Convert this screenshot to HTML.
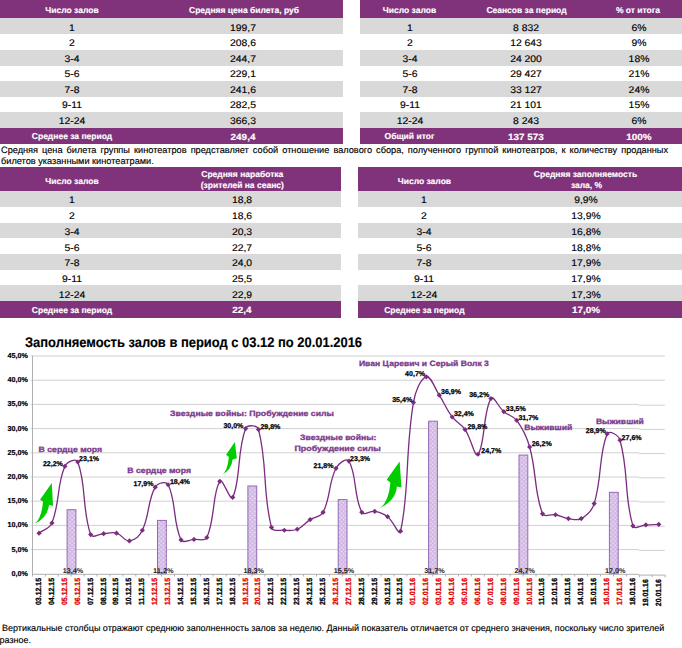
<!DOCTYPE html>
<html><head><meta charset="utf-8"><style>
html,body{margin:0;padding:0;background:#fff;}
div{-webkit-text-stroke:0.15px currentColor;}
body{text-rendering:geometricPrecision;width:682px;height:648px;position:relative;overflow:hidden;font-family:"Liberation Sans", sans-serif;}
</style></head><body>
<div style="position:absolute;left:0px;top:0px;width:343px;height:18.1px;background:#80337a"></div>
<div style="position:absolute;left:0px;top:18.1px;width:343px;height:16.199999999999996px;background:#d9d9d9"></div>
<div style="position:absolute;left:0px;top:50.0px;width:343px;height:15.599999999999994px;background:#d9d9d9"></div>
<div style="position:absolute;left:0px;top:81.2px;width:343px;height:15.599999999999994px;background:#d9d9d9"></div>
<div style="position:absolute;left:0px;top:112.3px;width:343px;height:15.700000000000003px;background:#d9d9d9"></div>
<div style="position:absolute;left:0px;top:128.0px;width:343px;height:15.800000000000011px;background:#80337a"></div>
<div style="position:absolute;left:360px;top:0px;width:322px;height:18.1px;background:#80337a"></div>
<div style="position:absolute;left:360px;top:18.1px;width:322px;height:16.199999999999996px;background:#d9d9d9"></div>
<div style="position:absolute;left:360px;top:50.0px;width:322px;height:15.599999999999994px;background:#d9d9d9"></div>
<div style="position:absolute;left:360px;top:81.2px;width:322px;height:15.599999999999994px;background:#d9d9d9"></div>
<div style="position:absolute;left:360px;top:112.3px;width:322px;height:15.700000000000003px;background:#d9d9d9"></div>
<div style="position:absolute;left:360px;top:128.0px;width:322px;height:15.800000000000011px;background:#80337a"></div>
<div style="position:absolute;left:-128px;width:400px;top:6.00px;height:8.5px;line-height:8.5px;font-size:8.5px;font-weight:bold;color:#fff;text-align:center;white-space:pre;transform:scaleX(1.0);transform-origin:200px 0">Число залов</div>
<div style="position:absolute;left:43.5px;width:400px;top:6.00px;height:8.5px;line-height:8.5px;font-size:8.5px;font-weight:bold;color:#fff;text-align:center;white-space:pre;transform:scaleX(0.9988901220865705);transform-origin:200px 0">Средняя цена билета, руб</div>
<div style="position:absolute;left:209.5px;width:400px;top:6.00px;height:8.5px;line-height:8.5px;font-size:8.5px;font-weight:bold;color:#fff;text-align:center;white-space:pre;transform:scaleX(1.0);transform-origin:200px 0">Число залов</div>
<div style="position:absolute;left:326.5px;width:400px;top:6.00px;height:8.5px;line-height:8.5px;font-size:8.5px;font-weight:bold;color:#fff;text-align:center;white-space:pre;transform:scaleX(1.0);transform-origin:200px 0">Сеансов за период</div>
<div style="position:absolute;left:438px;width:400px;top:6.00px;height:8.5px;line-height:8.5px;font-size:8.5px;font-weight:bold;color:#fff;text-align:center;white-space:pre;transform:scaleX(1.0);transform-origin:200px 0">% от итога</div>
<div style="position:absolute;left:-128px;width:400px;top:23.87px;height:9.6px;line-height:9.6px;font-size:9.6px;font-weight:normal;color:#000;text-align:center;white-space:pre;transform:scaleX(1.08);transform-origin:200px 0">1</div>
<div style="position:absolute;left:43px;width:400px;top:23.87px;height:9.6px;line-height:9.6px;font-size:9.6px;font-weight:normal;color:#000;text-align:center;white-space:pre;transform:scaleX(1.08);transform-origin:200px 0">199,7</div>
<div style="position:absolute;left:209.5px;width:400px;top:23.87px;height:9.6px;line-height:9.6px;font-size:9.6px;font-weight:normal;color:#000;text-align:center;white-space:pre;transform:scaleX(1.08);transform-origin:200px 0">1</div>
<div style="position:absolute;left:326px;width:400px;top:23.87px;height:9.6px;line-height:9.6px;font-size:9.6px;font-weight:normal;color:#000;text-align:center;white-space:pre;transform:scaleX(1.08);transform-origin:200px 0">8 832</div>
<div style="position:absolute;left:438.5px;width:400px;top:23.87px;height:9.6px;line-height:9.6px;font-size:9.6px;font-weight:normal;color:#000;text-align:center;white-space:pre;transform:scaleX(1.08);transform-origin:200px 0">6%</div>
<div style="position:absolute;left:-128px;width:400px;top:39.39px;height:9.6px;line-height:9.6px;font-size:9.6px;font-weight:normal;color:#000;text-align:center;white-space:pre;transform:scaleX(1.08);transform-origin:200px 0">2</div>
<div style="position:absolute;left:43px;width:400px;top:39.39px;height:9.6px;line-height:9.6px;font-size:9.6px;font-weight:normal;color:#000;text-align:center;white-space:pre;transform:scaleX(1.08);transform-origin:200px 0">208,6</div>
<div style="position:absolute;left:209.5px;width:400px;top:39.39px;height:9.6px;line-height:9.6px;font-size:9.6px;font-weight:normal;color:#000;text-align:center;white-space:pre;transform:scaleX(1.08);transform-origin:200px 0">2</div>
<div style="position:absolute;left:326px;width:400px;top:39.39px;height:9.6px;line-height:9.6px;font-size:9.6px;font-weight:normal;color:#000;text-align:center;white-space:pre;transform:scaleX(1.08);transform-origin:200px 0">12 643</div>
<div style="position:absolute;left:438.5px;width:400px;top:39.39px;height:9.6px;line-height:9.6px;font-size:9.6px;font-weight:normal;color:#000;text-align:center;white-space:pre;transform:scaleX(1.08);transform-origin:200px 0">9%</div>
<div style="position:absolute;left:-128px;width:400px;top:54.91px;height:9.6px;line-height:9.6px;font-size:9.6px;font-weight:normal;color:#000;text-align:center;white-space:pre;transform:scaleX(1.08);transform-origin:200px 0">3-4</div>
<div style="position:absolute;left:43px;width:400px;top:54.91px;height:9.6px;line-height:9.6px;font-size:9.6px;font-weight:normal;color:#000;text-align:center;white-space:pre;transform:scaleX(1.08);transform-origin:200px 0">244,7</div>
<div style="position:absolute;left:209.5px;width:400px;top:54.91px;height:9.6px;line-height:9.6px;font-size:9.6px;font-weight:normal;color:#000;text-align:center;white-space:pre;transform:scaleX(1.08);transform-origin:200px 0">3-4</div>
<div style="position:absolute;left:326px;width:400px;top:54.91px;height:9.6px;line-height:9.6px;font-size:9.6px;font-weight:normal;color:#000;text-align:center;white-space:pre;transform:scaleX(1.08);transform-origin:200px 0">24 200</div>
<div style="position:absolute;left:438.5px;width:400px;top:54.91px;height:9.6px;line-height:9.6px;font-size:9.6px;font-weight:normal;color:#000;text-align:center;white-space:pre;transform:scaleX(1.08);transform-origin:200px 0">18%</div>
<div style="position:absolute;left:-128px;width:400px;top:70.43px;height:9.6px;line-height:9.6px;font-size:9.6px;font-weight:normal;color:#000;text-align:center;white-space:pre;transform:scaleX(1.08);transform-origin:200px 0">5-6</div>
<div style="position:absolute;left:43px;width:400px;top:70.43px;height:9.6px;line-height:9.6px;font-size:9.6px;font-weight:normal;color:#000;text-align:center;white-space:pre;transform:scaleX(1.08);transform-origin:200px 0">229,1</div>
<div style="position:absolute;left:209.5px;width:400px;top:70.43px;height:9.6px;line-height:9.6px;font-size:9.6px;font-weight:normal;color:#000;text-align:center;white-space:pre;transform:scaleX(1.08);transform-origin:200px 0">5-6</div>
<div style="position:absolute;left:326px;width:400px;top:70.43px;height:9.6px;line-height:9.6px;font-size:9.6px;font-weight:normal;color:#000;text-align:center;white-space:pre;transform:scaleX(1.08);transform-origin:200px 0">29 427</div>
<div style="position:absolute;left:438.5px;width:400px;top:70.43px;height:9.6px;line-height:9.6px;font-size:9.6px;font-weight:normal;color:#000;text-align:center;white-space:pre;transform:scaleX(1.08);transform-origin:200px 0">21%</div>
<div style="position:absolute;left:-128px;width:400px;top:85.95px;height:9.6px;line-height:9.6px;font-size:9.6px;font-weight:normal;color:#000;text-align:center;white-space:pre;transform:scaleX(1.08);transform-origin:200px 0">7-8</div>
<div style="position:absolute;left:43px;width:400px;top:85.95px;height:9.6px;line-height:9.6px;font-size:9.6px;font-weight:normal;color:#000;text-align:center;white-space:pre;transform:scaleX(1.08);transform-origin:200px 0">241,6</div>
<div style="position:absolute;left:209.5px;width:400px;top:85.95px;height:9.6px;line-height:9.6px;font-size:9.6px;font-weight:normal;color:#000;text-align:center;white-space:pre;transform:scaleX(1.08);transform-origin:200px 0">7-8</div>
<div style="position:absolute;left:326px;width:400px;top:85.95px;height:9.6px;line-height:9.6px;font-size:9.6px;font-weight:normal;color:#000;text-align:center;white-space:pre;transform:scaleX(1.08);transform-origin:200px 0">33 127</div>
<div style="position:absolute;left:438.5px;width:400px;top:85.95px;height:9.6px;line-height:9.6px;font-size:9.6px;font-weight:normal;color:#000;text-align:center;white-space:pre;transform:scaleX(1.08);transform-origin:200px 0">24%</div>
<div style="position:absolute;left:-128px;width:400px;top:101.47px;height:9.6px;line-height:9.6px;font-size:9.6px;font-weight:normal;color:#000;text-align:center;white-space:pre;transform:scaleX(1.08);transform-origin:200px 0">9-11</div>
<div style="position:absolute;left:43px;width:400px;top:101.47px;height:9.6px;line-height:9.6px;font-size:9.6px;font-weight:normal;color:#000;text-align:center;white-space:pre;transform:scaleX(1.08);transform-origin:200px 0">282,5</div>
<div style="position:absolute;left:209.5px;width:400px;top:101.47px;height:9.6px;line-height:9.6px;font-size:9.6px;font-weight:normal;color:#000;text-align:center;white-space:pre;transform:scaleX(1.08);transform-origin:200px 0">9-11</div>
<div style="position:absolute;left:326px;width:400px;top:101.47px;height:9.6px;line-height:9.6px;font-size:9.6px;font-weight:normal;color:#000;text-align:center;white-space:pre;transform:scaleX(1.08);transform-origin:200px 0">21 101</div>
<div style="position:absolute;left:438.5px;width:400px;top:101.47px;height:9.6px;line-height:9.6px;font-size:9.6px;font-weight:normal;color:#000;text-align:center;white-space:pre;transform:scaleX(1.08);transform-origin:200px 0">15%</div>
<div style="position:absolute;left:-128px;width:400px;top:116.99px;height:9.6px;line-height:9.6px;font-size:9.6px;font-weight:normal;color:#000;text-align:center;white-space:pre;transform:scaleX(1.08);transform-origin:200px 0">12-24</div>
<div style="position:absolute;left:43px;width:400px;top:116.99px;height:9.6px;line-height:9.6px;font-size:9.6px;font-weight:normal;color:#000;text-align:center;white-space:pre;transform:scaleX(1.08);transform-origin:200px 0">366,3</div>
<div style="position:absolute;left:209.5px;width:400px;top:116.99px;height:9.6px;line-height:9.6px;font-size:9.6px;font-weight:normal;color:#000;text-align:center;white-space:pre;transform:scaleX(1.08);transform-origin:200px 0">12-24</div>
<div style="position:absolute;left:326px;width:400px;top:116.99px;height:9.6px;line-height:9.6px;font-size:9.6px;font-weight:normal;color:#000;text-align:center;white-space:pre;transform:scaleX(1.08);transform-origin:200px 0">8 243</div>
<div style="position:absolute;left:438.5px;width:400px;top:116.99px;height:9.6px;line-height:9.6px;font-size:9.6px;font-weight:normal;color:#000;text-align:center;white-space:pre;transform:scaleX(1.08);transform-origin:200px 0">6%</div>
<div style="position:absolute;left:-128px;width:400px;top:132.30px;height:8.5px;line-height:8.5px;font-size:8.5px;font-weight:bold;color:#fff;text-align:center;white-space:pre;transform:scaleX(1.0);transform-origin:200px 0">Среднее за период</div>
<div style="position:absolute;left:43px;width:400px;top:132.58px;height:9px;line-height:9px;font-size:9px;font-weight:bold;color:#fff;text-align:center;white-space:pre;transform:scaleX(1.1);transform-origin:200px 0">249,4</div>
<div style="position:absolute;left:209.5px;width:400px;top:132.30px;height:8.5px;line-height:8.5px;font-size:8.5px;font-weight:bold;color:#fff;text-align:center;white-space:pre;transform:scaleX(1.0);transform-origin:200px 0">Общий итог</div>
<div style="position:absolute;left:326px;width:400px;top:132.58px;height:9px;line-height:9px;font-size:9px;font-weight:bold;color:#fff;text-align:center;white-space:pre;transform:scaleX(1.1);transform-origin:200px 0">137 573</div>
<div style="position:absolute;left:438.5px;width:400px;top:132.58px;height:9px;line-height:9px;font-size:9px;font-weight:bold;color:#fff;text-align:center;white-space:pre;transform:scaleX(1.1);transform-origin:200px 0">100%</div>
<div style="position:absolute;left:1px;top:144.5px;width:667px;font-size:9.2px;line-height:11.5px;text-align:justify;color:#000">Средняя цена билета группы кинотеатров представляет собой отношение валового сбора, полученного группой кинотеатров, к количеству проданных билетов указанными кинотеатрами.</div>
<div style="position:absolute;left:0px;top:167px;width:341px;height:24.19999999999999px;background:#80337a"></div>
<div style="position:absolute;left:358px;top:167px;width:324px;height:24.19999999999999px;background:#80337a"></div>
<div style="position:absolute;left:0px;top:191.2px;width:341px;height:15.7px;background:#d9d9d9"></div>
<div style="position:absolute;left:358px;top:191.2px;width:324px;height:15.7px;background:#d9d9d9"></div>
<div style="position:absolute;left:0px;top:222.6px;width:341px;height:15.7px;background:#d9d9d9"></div>
<div style="position:absolute;left:358px;top:222.6px;width:324px;height:15.7px;background:#d9d9d9"></div>
<div style="position:absolute;left:0px;top:254.0px;width:341px;height:15.7px;background:#d9d9d9"></div>
<div style="position:absolute;left:358px;top:254.0px;width:324px;height:15.7px;background:#d9d9d9"></div>
<div style="position:absolute;left:0px;top:285.4px;width:341px;height:15.7px;background:#d9d9d9"></div>
<div style="position:absolute;left:358px;top:285.4px;width:324px;height:15.7px;background:#d9d9d9"></div>
<div style="position:absolute;left:0px;top:301.09999999999997px;width:341px;height:16.700000000000045px;background:#80337a"></div>
<div style="position:absolute;left:358px;top:301.09999999999997px;width:324px;height:16.700000000000045px;background:#80337a"></div>
<div style="position:absolute;left:-128px;width:400px;top:176.90px;height:8.5px;line-height:8.5px;font-size:8.5px;font-weight:bold;color:#fff;text-align:center;white-space:pre;transform:scaleX(1.0);transform-origin:200px 0">Число залов</div>
<div style="position:absolute;left:42.30000000000001px;width:400px;top:169.90px;height:8.5px;line-height:8.5px;font-size:8.5px;font-weight:bold;color:#fff;text-align:center;white-space:pre;transform:scaleX(1.0);transform-origin:200px 0">Средняя наработка</div>
<div style="position:absolute;left:42.30000000000001px;width:400px;top:181.40px;height:8.5px;line-height:8.5px;font-size:8.5px;font-weight:bold;color:#fff;text-align:center;white-space:pre;transform:scaleX(1.0);transform-origin:200px 0">(зрителей на сеанс)</div>
<div style="position:absolute;left:224.39999999999998px;width:400px;top:176.90px;height:8.5px;line-height:8.5px;font-size:8.5px;font-weight:bold;color:#fff;text-align:center;white-space:pre;transform:scaleX(1.0);transform-origin:200px 0">Число залов</div>
<div style="position:absolute;left:385.5px;width:400px;top:170.00px;height:8.5px;line-height:8.5px;font-size:8.5px;font-weight:bold;color:#fff;text-align:center;white-space:pre;transform:scaleX(1.0);transform-origin:200px 0">Средняя заполняемость</div>
<div style="position:absolute;left:386.5px;width:400px;top:181.40px;height:8.5px;line-height:8.5px;font-size:8.5px;font-weight:bold;color:#fff;text-align:center;white-space:pre;transform:scaleX(1.0);transform-origin:200px 0">зала, %</div>
<div style="position:absolute;left:-128px;width:400px;top:196.27px;height:9.6px;line-height:9.6px;font-size:9.6px;font-weight:normal;color:#000;text-align:center;white-space:pre;transform:scaleX(1.08);transform-origin:200px 0">1</div>
<div style="position:absolute;left:42.30000000000001px;width:400px;top:196.27px;height:9.6px;line-height:9.6px;font-size:9.6px;font-weight:normal;color:#000;text-align:center;white-space:pre;transform:scaleX(1.08);transform-origin:200px 0">18,8</div>
<div style="position:absolute;left:224.39999999999998px;width:400px;top:196.27px;height:9.6px;line-height:9.6px;font-size:9.6px;font-weight:normal;color:#000;text-align:center;white-space:pre;transform:scaleX(1.08);transform-origin:200px 0">1</div>
<div style="position:absolute;left:385.6px;width:400px;top:196.27px;height:9.6px;line-height:9.6px;font-size:9.6px;font-weight:normal;color:#000;text-align:center;white-space:pre;transform:scaleX(1.08);transform-origin:200px 0">9,9%</div>
<div style="position:absolute;left:-128px;width:400px;top:212.02px;height:9.6px;line-height:9.6px;font-size:9.6px;font-weight:normal;color:#000;text-align:center;white-space:pre;transform:scaleX(1.08);transform-origin:200px 0">2</div>
<div style="position:absolute;left:42.30000000000001px;width:400px;top:212.02px;height:9.6px;line-height:9.6px;font-size:9.6px;font-weight:normal;color:#000;text-align:center;white-space:pre;transform:scaleX(1.08);transform-origin:200px 0">18,6</div>
<div style="position:absolute;left:224.39999999999998px;width:400px;top:212.02px;height:9.6px;line-height:9.6px;font-size:9.6px;font-weight:normal;color:#000;text-align:center;white-space:pre;transform:scaleX(1.08);transform-origin:200px 0">2</div>
<div style="position:absolute;left:385.6px;width:400px;top:212.02px;height:9.6px;line-height:9.6px;font-size:9.6px;font-weight:normal;color:#000;text-align:center;white-space:pre;transform:scaleX(1.08);transform-origin:200px 0">13,9%</div>
<div style="position:absolute;left:-128px;width:400px;top:227.77px;height:9.6px;line-height:9.6px;font-size:9.6px;font-weight:normal;color:#000;text-align:center;white-space:pre;transform:scaleX(1.08);transform-origin:200px 0">3-4</div>
<div style="position:absolute;left:42.30000000000001px;width:400px;top:227.77px;height:9.6px;line-height:9.6px;font-size:9.6px;font-weight:normal;color:#000;text-align:center;white-space:pre;transform:scaleX(1.08);transform-origin:200px 0">20,3</div>
<div style="position:absolute;left:224.39999999999998px;width:400px;top:227.77px;height:9.6px;line-height:9.6px;font-size:9.6px;font-weight:normal;color:#000;text-align:center;white-space:pre;transform:scaleX(1.08);transform-origin:200px 0">3-4</div>
<div style="position:absolute;left:385.6px;width:400px;top:227.77px;height:9.6px;line-height:9.6px;font-size:9.6px;font-weight:normal;color:#000;text-align:center;white-space:pre;transform:scaleX(1.08);transform-origin:200px 0">16,8%</div>
<div style="position:absolute;left:-128px;width:400px;top:243.52px;height:9.6px;line-height:9.6px;font-size:9.6px;font-weight:normal;color:#000;text-align:center;white-space:pre;transform:scaleX(1.08);transform-origin:200px 0">5-6</div>
<div style="position:absolute;left:42.30000000000001px;width:400px;top:243.52px;height:9.6px;line-height:9.6px;font-size:9.6px;font-weight:normal;color:#000;text-align:center;white-space:pre;transform:scaleX(1.08);transform-origin:200px 0">22,7</div>
<div style="position:absolute;left:224.39999999999998px;width:400px;top:243.52px;height:9.6px;line-height:9.6px;font-size:9.6px;font-weight:normal;color:#000;text-align:center;white-space:pre;transform:scaleX(1.08);transform-origin:200px 0">5-6</div>
<div style="position:absolute;left:385.6px;width:400px;top:243.52px;height:9.6px;line-height:9.6px;font-size:9.6px;font-weight:normal;color:#000;text-align:center;white-space:pre;transform:scaleX(1.08);transform-origin:200px 0">18,8%</div>
<div style="position:absolute;left:-128px;width:400px;top:259.27px;height:9.6px;line-height:9.6px;font-size:9.6px;font-weight:normal;color:#000;text-align:center;white-space:pre;transform:scaleX(1.08);transform-origin:200px 0">7-8</div>
<div style="position:absolute;left:42.30000000000001px;width:400px;top:259.27px;height:9.6px;line-height:9.6px;font-size:9.6px;font-weight:normal;color:#000;text-align:center;white-space:pre;transform:scaleX(1.08);transform-origin:200px 0">24,0</div>
<div style="position:absolute;left:224.39999999999998px;width:400px;top:259.27px;height:9.6px;line-height:9.6px;font-size:9.6px;font-weight:normal;color:#000;text-align:center;white-space:pre;transform:scaleX(1.08);transform-origin:200px 0">7-8</div>
<div style="position:absolute;left:385.6px;width:400px;top:259.27px;height:9.6px;line-height:9.6px;font-size:9.6px;font-weight:normal;color:#000;text-align:center;white-space:pre;transform:scaleX(1.08);transform-origin:200px 0">17,9%</div>
<div style="position:absolute;left:-128px;width:400px;top:275.02px;height:9.6px;line-height:9.6px;font-size:9.6px;font-weight:normal;color:#000;text-align:center;white-space:pre;transform:scaleX(1.08);transform-origin:200px 0">9-11</div>
<div style="position:absolute;left:42.30000000000001px;width:400px;top:275.02px;height:9.6px;line-height:9.6px;font-size:9.6px;font-weight:normal;color:#000;text-align:center;white-space:pre;transform:scaleX(1.08);transform-origin:200px 0">25,5</div>
<div style="position:absolute;left:224.39999999999998px;width:400px;top:275.02px;height:9.6px;line-height:9.6px;font-size:9.6px;font-weight:normal;color:#000;text-align:center;white-space:pre;transform:scaleX(1.08);transform-origin:200px 0">9-11</div>
<div style="position:absolute;left:385.6px;width:400px;top:275.02px;height:9.6px;line-height:9.6px;font-size:9.6px;font-weight:normal;color:#000;text-align:center;white-space:pre;transform:scaleX(1.08);transform-origin:200px 0">17,9%</div>
<div style="position:absolute;left:-128px;width:400px;top:290.77px;height:9.6px;line-height:9.6px;font-size:9.6px;font-weight:normal;color:#000;text-align:center;white-space:pre;transform:scaleX(1.08);transform-origin:200px 0">12-24</div>
<div style="position:absolute;left:42.30000000000001px;width:400px;top:290.77px;height:9.6px;line-height:9.6px;font-size:9.6px;font-weight:normal;color:#000;text-align:center;white-space:pre;transform:scaleX(1.08);transform-origin:200px 0">22,9</div>
<div style="position:absolute;left:224.39999999999998px;width:400px;top:290.77px;height:9.6px;line-height:9.6px;font-size:9.6px;font-weight:normal;color:#000;text-align:center;white-space:pre;transform:scaleX(1.08);transform-origin:200px 0">12-24</div>
<div style="position:absolute;left:385.6px;width:400px;top:290.77px;height:9.6px;line-height:9.6px;font-size:9.6px;font-weight:normal;color:#000;text-align:center;white-space:pre;transform:scaleX(1.08);transform-origin:200px 0">17,3%</div>
<div style="position:absolute;left:-128px;width:400px;top:305.80px;height:8.5px;line-height:8.5px;font-size:8.5px;font-weight:bold;color:#fff;text-align:center;white-space:pre;transform:scaleX(1.0);transform-origin:200px 0">Среднее за период</div>
<div style="position:absolute;left:42.30000000000001px;width:400px;top:306.48px;height:9px;line-height:9px;font-size:9px;font-weight:bold;color:#fff;text-align:center;white-space:pre;transform:scaleX(1.1);transform-origin:200px 0">22,4</div>
<div style="position:absolute;left:224.39999999999998px;width:400px;top:305.80px;height:8.5px;line-height:8.5px;font-size:8.5px;font-weight:bold;color:#fff;text-align:center;white-space:pre;transform:scaleX(1.0);transform-origin:200px 0">Среднее за период</div>
<div style="position:absolute;left:385.6px;width:400px;top:306.48px;height:9px;line-height:9px;font-size:9px;font-weight:bold;color:#fff;text-align:center;white-space:pre;transform:scaleX(1.1);transform-origin:200px 0">17,0%</div>
<div style="position:absolute;left:25px;top:334.75px;height:14px;line-height:14px;font-size:14px;font-weight:bold;color:#000;white-space:pre;transform:scaleX(0.9235406960811182);transform-origin:0 0">Заполняемость залов в период с 03.12 по 20.01.2016</div>
<svg width="682" height="648" viewBox="0 0 682 648" style="position:absolute;left:0;top:0">
<defs><pattern id="dots" width="3" height="3" patternUnits="userSpaceOnUse" patternTransform="rotate(45)"><rect width="3" height="3" fill="#d0b6e3"/><rect x="0.8" y="0.8" width="1.4" height="1.4" fill="#f6eefa"/></pattern></defs>
<line x1="30.5" x2="639" y1="549.6" y2="549.6" stroke="#d0d0d0" stroke-width="1"/>
<line x1="639" x2="664.8" y1="550.4" y2="550.4" stroke="#d0d0d0" stroke-width="1"/>
<line x1="30.5" x2="639" y1="525.4" y2="525.4" stroke="#d0d0d0" stroke-width="1"/>
<line x1="639" x2="664.8" y1="526.2" y2="526.2" stroke="#d0d0d0" stroke-width="1"/>
<line x1="30.5" x2="639" y1="501.2" y2="501.2" stroke="#d0d0d0" stroke-width="1"/>
<line x1="639" x2="664.8" y1="502.0" y2="502.0" stroke="#d0d0d0" stroke-width="1"/>
<line x1="30.5" x2="639" y1="477.0" y2="477.0" stroke="#d0d0d0" stroke-width="1"/>
<line x1="639" x2="664.8" y1="477.8" y2="477.8" stroke="#d0d0d0" stroke-width="1"/>
<line x1="30.5" x2="639" y1="452.8" y2="452.8" stroke="#d0d0d0" stroke-width="1"/>
<line x1="639" x2="664.8" y1="453.6" y2="453.6" stroke="#d0d0d0" stroke-width="1"/>
<line x1="30.5" x2="639" y1="428.6" y2="428.6" stroke="#d0d0d0" stroke-width="1"/>
<line x1="639" x2="664.8" y1="429.4" y2="429.4" stroke="#d0d0d0" stroke-width="1"/>
<line x1="30.5" x2="639" y1="404.4" y2="404.4" stroke="#d0d0d0" stroke-width="1"/>
<line x1="639" x2="664.8" y1="405.2" y2="405.2" stroke="#d0d0d0" stroke-width="1"/>
<line x1="30.5" x2="639" y1="380.2" y2="380.2" stroke="#d0d0d0" stroke-width="1"/>
<line x1="639" x2="664.8" y1="380.2" y2="380.2" stroke="#d0d0d0" stroke-width="1"/>
<line x1="30.5" x2="639" y1="356.0" y2="356.0" stroke="#d0d0d0" stroke-width="1"/>
<line x1="639" x2="664.8" y1="356.0" y2="356.0" stroke="#d0d0d0" stroke-width="1"/>
<text x="27.8" y="575.8" font-size="7.2" font-weight="bold" text-anchor="end" fill="#000" stroke="#000" stroke-width="0.2" font-family="Liberation Sans">0,0%</text>
<text x="27.8" y="551.6" font-size="7.2" font-weight="bold" text-anchor="end" fill="#000" stroke="#000" stroke-width="0.2" font-family="Liberation Sans">5,0%</text>
<text x="27.8" y="527.4" font-size="7.2" font-weight="bold" text-anchor="end" fill="#000" stroke="#000" stroke-width="0.2" font-family="Liberation Sans">10,0%</text>
<text x="27.8" y="503.2" font-size="7.2" font-weight="bold" text-anchor="end" fill="#000" stroke="#000" stroke-width="0.2" font-family="Liberation Sans">15,0%</text>
<text x="27.8" y="479.0" font-size="7.2" font-weight="bold" text-anchor="end" fill="#000" stroke="#000" stroke-width="0.2" font-family="Liberation Sans">20,0%</text>
<text x="27.8" y="454.8" font-size="7.2" font-weight="bold" text-anchor="end" fill="#000" stroke="#000" stroke-width="0.2" font-family="Liberation Sans">25,0%</text>
<text x="27.8" y="430.6" font-size="7.2" font-weight="bold" text-anchor="end" fill="#000" stroke="#000" stroke-width="0.2" font-family="Liberation Sans">30,0%</text>
<text x="27.8" y="406.4" font-size="7.2" font-weight="bold" text-anchor="end" fill="#000" stroke="#000" stroke-width="0.2" font-family="Liberation Sans">35,0%</text>
<text x="27.8" y="382.2" font-size="7.2" font-weight="bold" text-anchor="end" fill="#000" stroke="#000" stroke-width="0.2" font-family="Liberation Sans">40,0%</text>
<text x="27.8" y="358.0" font-size="7.2" font-weight="bold" text-anchor="end" fill="#000" stroke="#000" stroke-width="0.2" font-family="Liberation Sans">45,0%</text>
<rect x="67.1" y="509.7" width="8.8" height="64.1" fill="url(#dots)" stroke="#9468b6" stroke-width="1"/>
<rect x="157.5" y="520.4" width="8.8" height="53.4" fill="url(#dots)" stroke="#9468b6" stroke-width="1"/>
<rect x="247.9" y="486.0" width="8.8" height="87.8" fill="url(#dots)" stroke="#9468b6" stroke-width="1"/>
<rect x="338.2" y="499.6" width="8.8" height="74.2" fill="url(#dots)" stroke="#9468b6" stroke-width="1"/>
<rect x="428.6" y="421.2" width="8.8" height="152.6" fill="url(#dots)" stroke="#9468b6" stroke-width="1"/>
<rect x="519.0" y="455.1" width="8.8" height="118.7" fill="url(#dots)" stroke="#9468b6" stroke-width="1"/>
<rect x="609.4" y="492.3" width="8.8" height="81.5" fill="url(#dots)" stroke="#9468b6" stroke-width="1"/>
<line x1="32.5" x2="32.5" y1="355.5" y2="574.3" stroke="#b0b0b0" stroke-width="1"/>
<line x1="32" x2="639" y1="574.3" y2="574.3" stroke="#b0b0b0" stroke-width="1"/>
<line x1="639" x2="664.8" y1="575.1" y2="575.1" stroke="#b0b0b0" stroke-width="1"/>
<line x1="32.5" x2="32.5" y1="574" y2="576.5" stroke="#b0b0b0" stroke-width="1"/>
<line x1="45.4" x2="45.4" y1="574" y2="576.5" stroke="#b0b0b0" stroke-width="1"/>
<line x1="58.3" x2="58.3" y1="574" y2="576.5" stroke="#b0b0b0" stroke-width="1"/>
<line x1="71.2" x2="71.2" y1="574" y2="576.5" stroke="#b0b0b0" stroke-width="1"/>
<line x1="84.1" x2="84.1" y1="574" y2="576.5" stroke="#b0b0b0" stroke-width="1"/>
<line x1="97.0" x2="97.0" y1="574" y2="576.5" stroke="#b0b0b0" stroke-width="1"/>
<line x1="110.0" x2="110.0" y1="574" y2="576.5" stroke="#b0b0b0" stroke-width="1"/>
<line x1="122.9" x2="122.9" y1="574" y2="576.5" stroke="#b0b0b0" stroke-width="1"/>
<line x1="135.8" x2="135.8" y1="574" y2="576.5" stroke="#b0b0b0" stroke-width="1"/>
<line x1="148.7" x2="148.7" y1="574" y2="576.5" stroke="#b0b0b0" stroke-width="1"/>
<line x1="161.6" x2="161.6" y1="574" y2="576.5" stroke="#b0b0b0" stroke-width="1"/>
<line x1="174.5" x2="174.5" y1="574" y2="576.5" stroke="#b0b0b0" stroke-width="1"/>
<line x1="187.4" x2="187.4" y1="574" y2="576.5" stroke="#b0b0b0" stroke-width="1"/>
<line x1="200.3" x2="200.3" y1="574" y2="576.5" stroke="#b0b0b0" stroke-width="1"/>
<line x1="213.2" x2="213.2" y1="574" y2="576.5" stroke="#b0b0b0" stroke-width="1"/>
<line x1="226.2" x2="226.2" y1="574" y2="576.5" stroke="#b0b0b0" stroke-width="1"/>
<line x1="239.1" x2="239.1" y1="574" y2="576.5" stroke="#b0b0b0" stroke-width="1"/>
<line x1="252.0" x2="252.0" y1="574" y2="576.5" stroke="#b0b0b0" stroke-width="1"/>
<line x1="264.9" x2="264.9" y1="574" y2="576.5" stroke="#b0b0b0" stroke-width="1"/>
<line x1="277.8" x2="277.8" y1="574" y2="576.5" stroke="#b0b0b0" stroke-width="1"/>
<line x1="290.7" x2="290.7" y1="574" y2="576.5" stroke="#b0b0b0" stroke-width="1"/>
<line x1="303.6" x2="303.6" y1="574" y2="576.5" stroke="#b0b0b0" stroke-width="1"/>
<line x1="316.5" x2="316.5" y1="574" y2="576.5" stroke="#b0b0b0" stroke-width="1"/>
<line x1="329.4" x2="329.4" y1="574" y2="576.5" stroke="#b0b0b0" stroke-width="1"/>
<line x1="342.3" x2="342.3" y1="574" y2="576.5" stroke="#b0b0b0" stroke-width="1"/>
<line x1="355.2" x2="355.2" y1="574" y2="576.5" stroke="#b0b0b0" stroke-width="1"/>
<line x1="368.2" x2="368.2" y1="574" y2="576.5" stroke="#b0b0b0" stroke-width="1"/>
<line x1="381.1" x2="381.1" y1="574" y2="576.5" stroke="#b0b0b0" stroke-width="1"/>
<line x1="394.0" x2="394.0" y1="574" y2="576.5" stroke="#b0b0b0" stroke-width="1"/>
<line x1="406.9" x2="406.9" y1="574" y2="576.5" stroke="#b0b0b0" stroke-width="1"/>
<line x1="419.8" x2="419.8" y1="574" y2="576.5" stroke="#b0b0b0" stroke-width="1"/>
<line x1="432.7" x2="432.7" y1="574" y2="576.5" stroke="#b0b0b0" stroke-width="1"/>
<line x1="445.6" x2="445.6" y1="574" y2="576.5" stroke="#b0b0b0" stroke-width="1"/>
<line x1="458.5" x2="458.5" y1="574" y2="576.5" stroke="#b0b0b0" stroke-width="1"/>
<line x1="471.4" x2="471.4" y1="574" y2="576.5" stroke="#b0b0b0" stroke-width="1"/>
<line x1="484.4" x2="484.4" y1="574" y2="576.5" stroke="#b0b0b0" stroke-width="1"/>
<line x1="497.3" x2="497.3" y1="574" y2="576.5" stroke="#b0b0b0" stroke-width="1"/>
<line x1="510.2" x2="510.2" y1="574" y2="576.5" stroke="#b0b0b0" stroke-width="1"/>
<line x1="523.1" x2="523.1" y1="574" y2="576.5" stroke="#b0b0b0" stroke-width="1"/>
<line x1="536.0" x2="536.0" y1="574" y2="576.5" stroke="#b0b0b0" stroke-width="1"/>
<line x1="548.9" x2="548.9" y1="574" y2="576.5" stroke="#b0b0b0" stroke-width="1"/>
<line x1="561.8" x2="561.8" y1="574" y2="576.5" stroke="#b0b0b0" stroke-width="1"/>
<line x1="574.7" x2="574.7" y1="574" y2="576.5" stroke="#b0b0b0" stroke-width="1"/>
<line x1="587.6" x2="587.6" y1="574" y2="576.5" stroke="#b0b0b0" stroke-width="1"/>
<line x1="600.5" x2="600.5" y1="574" y2="576.5" stroke="#b0b0b0" stroke-width="1"/>
<line x1="613.5" x2="613.5" y1="574" y2="576.5" stroke="#b0b0b0" stroke-width="1"/>
<line x1="626.4" x2="626.4" y1="574" y2="576.5" stroke="#b0b0b0" stroke-width="1"/>
<line x1="639.3" x2="639.3" y1="574.8" y2="577.3" stroke="#b0b0b0" stroke-width="1"/>
<line x1="652.2" x2="652.2" y1="574.8" y2="577.3" stroke="#b0b0b0" stroke-width="1"/>
<line x1="665.1" x2="665.1" y1="574.8" y2="577.3" stroke="#b0b0b0" stroke-width="1"/>
<path d="M39.06,533.14 C44.22,529.08 49.69,528.87 51.97,522.98 C60.02,502.15 56.51,486.11 64.88,466.35 C66.84,461.72 76.18,457.74 77.79,462.00 C86.51,485.04 81.91,510.22 90.70,534.60 C92.24,538.88 98.44,533.92 103.61,533.63 C108.77,533.34 111.75,531.80 116.52,533.14 C122.08,534.71 124.54,541.44 129.43,540.89 C134.87,540.28 139.54,536.07 142.34,530.24 C149.87,514.58 147.26,501.25 155.25,487.16 C157.58,483.05 166.22,480.77 168.16,484.74 C176.54,501.88 172.66,522.10 181.07,539.92 C182.99,543.98 188.84,539.92 193.98,539.44 C199.17,538.95 204.98,541.79 206.89,537.50 C215.31,518.56 212.19,493.20 219.80,481.36 C222.51,477.13 230.37,502.12 232.71,497.33 C240.69,481.02 236.91,451.47 245.62,428.60 C247.23,424.37 257.33,424.98 258.53,429.57 C267.66,464.48 262.33,491.83 271.44,527.34 C272.66,532.10 279.13,529.85 284.35,530.24 C289.46,530.62 292.66,531.17 297.26,529.27 C302.99,526.91 304.78,523.13 310.17,519.59 C315.11,516.35 320.56,517.34 323.08,512.33 C330.89,496.82 328.18,483.80 335.99,468.29 C338.51,463.28 346.64,457.17 348.90,461.03 C356.97,474.79 353.51,496.16 361.81,512.33 C363.84,516.29 369.75,510.53 374.72,511.36 C380.08,512.27 383.31,513.37 387.63,516.69 C393.64,521.31 399.19,537.17 400.54,531.21 C409.52,491.48 405.00,453.01 413.45,402.46 C415.33,391.25 420.57,378.44 426.36,376.81 C430.89,375.54 434.41,387.65 439.27,395.20 C444.74,403.72 446.15,408.96 452.18,416.98 C456.48,422.70 461.03,423.71 465.09,429.57 C471.36,438.62 474.62,458.31 478.00,454.25 C484.94,445.92 483.09,411.48 490.91,398.59 C493.42,394.45 498.23,406.95 503.82,411.66 C508.56,415.66 513.17,415.50 516.73,420.37 C523.50,429.63 526.51,435.67 529.64,446.99 C536.84,473.03 533.87,491.01 542.55,513.78 C544.20,518.12 550.40,513.80 555.46,514.75 C560.73,515.74 563.09,517.83 568.37,518.62 C573.42,519.38 577.20,520.99 581.28,518.62 C587.53,514.99 591.94,511.02 594.19,503.62 C602.26,477.14 598.51,455.01 607.10,433.92 C608.84,429.65 618.54,434.99 620.01,440.22 C628.87,471.77 623.93,496.41 632.92,525.88 C634.26,530.29 640.66,525.21 645.83,524.92 C650.99,524.63 653.58,524.63 658.74,524.43" fill="none" stroke="#7b2c80" stroke-width="1.3"/>
<path d="M39.06,530.54 L41.66,533.14 L39.06,535.74 L36.46,533.14Z" fill="#7b2c80"/>
<path d="M51.97,520.38 L54.57,522.98 L51.97,525.58 L49.37,522.98Z" fill="#7b2c80"/>
<path d="M64.88,463.75 L67.48,466.35 L64.88,468.95 L62.28,466.35Z" fill="#7b2c80"/>
<path d="M77.79,459.40 L80.39,462.00 L77.79,464.60 L75.19,462.00Z" fill="#7b2c80"/>
<path d="M90.70,532.00 L93.30,534.60 L90.70,537.20 L88.10,534.60Z" fill="#7b2c80"/>
<path d="M103.61,531.03 L106.21,533.63 L103.61,536.23 L101.01,533.63Z" fill="#7b2c80"/>
<path d="M116.52,530.54 L119.12,533.14 L116.52,535.74 L113.92,533.14Z" fill="#7b2c80"/>
<path d="M129.43,538.29 L132.03,540.89 L129.43,543.49 L126.83,540.89Z" fill="#7b2c80"/>
<path d="M142.34,527.64 L144.94,530.24 L142.34,532.84 L139.74,530.24Z" fill="#7b2c80"/>
<path d="M155.25,484.56 L157.85,487.16 L155.25,489.76 L152.65,487.16Z" fill="#7b2c80"/>
<path d="M168.16,482.14 L170.76,484.74 L168.16,487.34 L165.56,484.74Z" fill="#7b2c80"/>
<path d="M181.07,537.32 L183.67,539.92 L181.07,542.52 L178.47,539.92Z" fill="#7b2c80"/>
<path d="M193.98,536.84 L196.58,539.44 L193.98,542.04 L191.38,539.44Z" fill="#7b2c80"/>
<path d="M206.89,534.90 L209.49,537.50 L206.89,540.10 L204.29,537.50Z" fill="#7b2c80"/>
<path d="M219.80,478.76 L222.40,481.36 L219.80,483.96 L217.20,481.36Z" fill="#7b2c80"/>
<path d="M232.71,494.73 L235.31,497.33 L232.71,499.93 L230.11,497.33Z" fill="#7b2c80"/>
<path d="M245.62,426.00 L248.22,428.60 L245.62,431.20 L243.02,428.60Z" fill="#7b2c80"/>
<path d="M258.53,426.97 L261.13,429.57 L258.53,432.17 L255.93,429.57Z" fill="#7b2c80"/>
<path d="M271.44,524.74 L274.04,527.34 L271.44,529.94 L268.84,527.34Z" fill="#7b2c80"/>
<path d="M284.35,527.64 L286.95,530.24 L284.35,532.84 L281.75,530.24Z" fill="#7b2c80"/>
<path d="M297.26,526.67 L299.86,529.27 L297.26,531.87 L294.66,529.27Z" fill="#7b2c80"/>
<path d="M310.17,516.99 L312.77,519.59 L310.17,522.19 L307.57,519.59Z" fill="#7b2c80"/>
<path d="M323.08,509.73 L325.68,512.33 L323.08,514.93 L320.48,512.33Z" fill="#7b2c80"/>
<path d="M335.99,465.69 L338.59,468.29 L335.99,470.89 L333.39,468.29Z" fill="#7b2c80"/>
<path d="M348.90,458.43 L351.50,461.03 L348.90,463.63 L346.30,461.03Z" fill="#7b2c80"/>
<path d="M361.81,509.73 L364.41,512.33 L361.81,514.93 L359.21,512.33Z" fill="#7b2c80"/>
<path d="M374.72,508.76 L377.32,511.36 L374.72,513.96 L372.12,511.36Z" fill="#7b2c80"/>
<path d="M387.63,514.09 L390.23,516.69 L387.63,519.29 L385.03,516.69Z" fill="#7b2c80"/>
<path d="M400.54,528.61 L403.14,531.21 L400.54,533.81 L397.94,531.21Z" fill="#7b2c80"/>
<path d="M413.45,399.86 L416.05,402.46 L413.45,405.06 L410.85,402.46Z" fill="#7b2c80"/>
<path d="M426.36,374.21 L428.96,376.81 L426.36,379.41 L423.76,376.81Z" fill="#7b2c80"/>
<path d="M439.27,392.60 L441.87,395.20 L439.27,397.80 L436.67,395.20Z" fill="#7b2c80"/>
<path d="M452.18,414.38 L454.78,416.98 L452.18,419.58 L449.58,416.98Z" fill="#7b2c80"/>
<path d="M465.09,426.97 L467.69,429.57 L465.09,432.17 L462.49,429.57Z" fill="#7b2c80"/>
<path d="M478.00,451.65 L480.60,454.25 L478.00,456.85 L475.40,454.25Z" fill="#7b2c80"/>
<path d="M490.91,395.99 L493.51,398.59 L490.91,401.19 L488.31,398.59Z" fill="#7b2c80"/>
<path d="M503.82,409.06 L506.42,411.66 L503.82,414.26 L501.22,411.66Z" fill="#7b2c80"/>
<path d="M516.73,417.77 L519.33,420.37 L516.73,422.97 L514.13,420.37Z" fill="#7b2c80"/>
<path d="M529.64,444.39 L532.24,446.99 L529.64,449.59 L527.04,446.99Z" fill="#7b2c80"/>
<path d="M542.55,511.18 L545.15,513.78 L542.55,516.38 L539.95,513.78Z" fill="#7b2c80"/>
<path d="M555.46,512.15 L558.06,514.75 L555.46,517.35 L552.86,514.75Z" fill="#7b2c80"/>
<path d="M568.37,516.02 L570.97,518.62 L568.37,521.22 L565.77,518.62Z" fill="#7b2c80"/>
<path d="M581.28,516.02 L583.88,518.62 L581.28,521.22 L578.68,518.62Z" fill="#7b2c80"/>
<path d="M594.19,501.02 L596.79,503.62 L594.19,506.22 L591.59,503.62Z" fill="#7b2c80"/>
<path d="M607.10,431.32 L609.70,433.92 L607.10,436.52 L604.50,433.92Z" fill="#7b2c80"/>
<path d="M620.01,437.62 L622.61,440.22 L620.01,442.82 L617.41,440.22Z" fill="#7b2c80"/>
<path d="M632.92,523.28 L635.52,525.88 L632.92,528.48 L630.32,525.88Z" fill="#7b2c80"/>
<path d="M645.83,522.32 L648.43,524.92 L645.83,527.52 L643.23,524.92Z" fill="#7b2c80"/>
<path d="M658.74,521.83 L661.34,524.43 L658.74,527.03 L656.14,524.43Z" fill="#7b2c80"/>
<path d="M51.8,483 L40,499.8 L43,501.5 Q41.5,518.6 34.8,523.7 Q48,517.2 49,504.7 L53,506.1 Z" fill="#00cc00"/>
<path d="M234.9,442 L226.1,454.8 L228.9,456.9 Q227.4,471.9 221.5,474.9 Q231.6,470.25 232.6,459.6 L236.8,458.2 Z" fill="#00cc00"/>
<path d="M399.6,461.6 L386.7,479.8 L390.4,482.4 Q388.9,501.15 380.4,507.9 Q395.9,500.25 396.9,486.6 L401.5,487.5 Z" fill="#00cc00"/>
<text x="42.9" y="466.1" font-size="7" font-weight="bold" fill="#000" stroke="#000" stroke-width="0.25" font-family="Liberation Sans" text-anchor="start" textLength="20" lengthAdjust="spacingAndGlyphs">22,2%</text>
<text x="79.1" y="461.1" font-size="7" font-weight="bold" fill="#000" stroke="#000" stroke-width="0.25" font-family="Liberation Sans" text-anchor="start" textLength="20" lengthAdjust="spacingAndGlyphs">23,1%</text>
<text x="133.5" y="486.1" font-size="7" font-weight="bold" fill="#000" stroke="#000" stroke-width="0.25" font-family="Liberation Sans" text-anchor="start" textLength="20" lengthAdjust="spacingAndGlyphs">17,9%</text>
<text x="169.9" y="483.7" font-size="7" font-weight="bold" fill="#000" stroke="#000" stroke-width="0.25" font-family="Liberation Sans" text-anchor="start" textLength="20" lengthAdjust="spacingAndGlyphs">18,4%</text>
<text x="223.4" y="427.6" font-size="7" font-weight="bold" fill="#000" stroke="#000" stroke-width="0.25" font-family="Liberation Sans" text-anchor="start" textLength="20" lengthAdjust="spacingAndGlyphs">30,0%</text>
<text x="260.4" y="428.6" font-size="7" font-weight="bold" fill="#000" stroke="#000" stroke-width="0.25" font-family="Liberation Sans" text-anchor="start" textLength="20" lengthAdjust="spacingAndGlyphs">29,8%</text>
<text x="313.5" y="467.8" font-size="7" font-weight="bold" fill="#000" stroke="#000" stroke-width="0.25" font-family="Liberation Sans" text-anchor="start" textLength="20" lengthAdjust="spacingAndGlyphs">21,8%</text>
<text x="350.1" y="461.0" font-size="7" font-weight="bold" fill="#000" stroke="#000" stroke-width="0.25" font-family="Liberation Sans" text-anchor="start" textLength="20" lengthAdjust="spacingAndGlyphs">23,3%</text>
<text x="392.2" y="402.1" font-size="7" font-weight="bold" fill="#000" stroke="#000" stroke-width="0.25" font-family="Liberation Sans" text-anchor="start" textLength="20" lengthAdjust="spacingAndGlyphs">35,4%</text>
<text x="405.1" y="375.8" font-size="7" font-weight="bold" fill="#000" stroke="#000" stroke-width="0.25" font-family="Liberation Sans" text-anchor="start" textLength="20" lengthAdjust="spacingAndGlyphs">40,7%</text>
<text x="441.0" y="394.4" font-size="7" font-weight="bold" fill="#000" stroke="#000" stroke-width="0.25" font-family="Liberation Sans" text-anchor="start" textLength="20" lengthAdjust="spacingAndGlyphs">36,9%</text>
<text x="453.9" y="416.3" font-size="7" font-weight="bold" fill="#000" stroke="#000" stroke-width="0.25" font-family="Liberation Sans" text-anchor="start" textLength="20" lengthAdjust="spacingAndGlyphs">32,4%</text>
<text x="467.4" y="428.7" font-size="7" font-weight="bold" fill="#000" stroke="#000" stroke-width="0.25" font-family="Liberation Sans" text-anchor="start" textLength="20" lengthAdjust="spacingAndGlyphs">29,8%</text>
<text x="481.3" y="453.4" font-size="7" font-weight="bold" fill="#000" stroke="#000" stroke-width="0.25" font-family="Liberation Sans" text-anchor="start" textLength="20" lengthAdjust="spacingAndGlyphs">24,7%</text>
<text x="469.2" y="397.3" font-size="7" font-weight="bold" fill="#000" stroke="#000" stroke-width="0.25" font-family="Liberation Sans" text-anchor="start" textLength="20" lengthAdjust="spacingAndGlyphs">36,2%</text>
<text x="505.8" y="410.6" font-size="7" font-weight="bold" fill="#000" stroke="#000" stroke-width="0.25" font-family="Liberation Sans" text-anchor="start" textLength="20" lengthAdjust="spacingAndGlyphs">33,5%</text>
<text x="518.4" y="420.0" font-size="7" font-weight="bold" fill="#000" stroke="#000" stroke-width="0.25" font-family="Liberation Sans" text-anchor="start" textLength="20" lengthAdjust="spacingAndGlyphs">31,7%</text>
<text x="531.7" y="445.7" font-size="7" font-weight="bold" fill="#000" stroke="#000" stroke-width="0.25" font-family="Liberation Sans" text-anchor="start" textLength="20" lengthAdjust="spacingAndGlyphs">26,2%</text>
<text x="585.8" y="433.2" font-size="7" font-weight="bold" fill="#000" stroke="#000" stroke-width="0.25" font-family="Liberation Sans" text-anchor="start" textLength="20" lengthAdjust="spacingAndGlyphs">28,9%</text>
<text x="621.6" y="439.9" font-size="7" font-weight="bold" fill="#000" stroke="#000" stroke-width="0.25" font-family="Liberation Sans" text-anchor="start" textLength="20" lengthAdjust="spacingAndGlyphs">27,6%</text>
<text x="72.9" y="572.8" font-size="7" font-weight="bold" fill="#222" font-family="Liberation Sans" text-anchor="middle" textLength="20.5" lengthAdjust="spacingAndGlyphs">13,4%</text>
<text x="163.3" y="572.8" font-size="7" font-weight="bold" fill="#222" font-family="Liberation Sans" text-anchor="middle" textLength="20.5" lengthAdjust="spacingAndGlyphs">11,2%</text>
<text x="253.7" y="572.8" font-size="7" font-weight="bold" fill="#222" font-family="Liberation Sans" text-anchor="middle" textLength="20.5" lengthAdjust="spacingAndGlyphs">18,3%</text>
<text x="344.0" y="572.8" font-size="7" font-weight="bold" fill="#222" font-family="Liberation Sans" text-anchor="middle" textLength="20.5" lengthAdjust="spacingAndGlyphs">15,5%</text>
<text x="434.4" y="572.8" font-size="7" font-weight="bold" fill="#222" font-family="Liberation Sans" text-anchor="middle" textLength="20.5" lengthAdjust="spacingAndGlyphs">31,7%</text>
<text x="524.8" y="572.8" font-size="7" font-weight="bold" fill="#222" font-family="Liberation Sans" text-anchor="middle" textLength="20.5" lengthAdjust="spacingAndGlyphs">24,7%</text>
<text x="615.2" y="572.8" font-size="7" font-weight="bold" fill="#222" font-family="Liberation Sans" text-anchor="middle" textLength="20.5" lengthAdjust="spacingAndGlyphs">17,0%</text>
<text x="38.5" y="451.6" font-size="7.8" font-weight="bold" fill="#7b3a8c" stroke="#7b3a8c" stroke-width="0.3" font-family="Liberation Sans" text-anchor="start" textLength="63.6" lengthAdjust="spacingAndGlyphs">В сердце моря</text>
<text x="127.3" y="472.8" font-size="7.8" font-weight="bold" fill="#7b3a8c" stroke="#7b3a8c" stroke-width="0.3" font-family="Liberation Sans" text-anchor="start" textLength="63.7" lengthAdjust="spacingAndGlyphs">В сердце моря</text>
<text x="170.0" y="416.1" font-size="7.8" font-weight="bold" fill="#7b3a8c" stroke="#7b3a8c" stroke-width="0.3" font-family="Liberation Sans" text-anchor="start" textLength="164" lengthAdjust="spacingAndGlyphs">Звездные войны: Пробуждение силы</text>
<text x="300.0" y="440.4" font-size="7.8" font-weight="bold" fill="#7b3a8c" stroke="#7b3a8c" stroke-width="0.3" font-family="Liberation Sans" text-anchor="start" textLength="76.5" lengthAdjust="spacingAndGlyphs">Звездные войны:</text>
<text x="294.4" y="451.1" font-size="7.8" font-weight="bold" fill="#7b3a8c" stroke="#7b3a8c" stroke-width="0.3" font-family="Liberation Sans" text-anchor="start" textLength="86.5" lengthAdjust="spacingAndGlyphs">Пробуждение силы</text>
<text x="358.9" y="366.4" font-size="7.8" font-weight="bold" fill="#7b3a8c" stroke="#7b3a8c" stroke-width="0.3" font-family="Liberation Sans" text-anchor="start" textLength="130" lengthAdjust="spacingAndGlyphs">Иван Царевич и Серый Волк 3</text>
<text x="524.2" y="430.4" font-size="7.8" font-weight="bold" fill="#7b3a8c" stroke="#7b3a8c" stroke-width="0.3" font-family="Liberation Sans" text-anchor="start" textLength="48.2" lengthAdjust="spacingAndGlyphs">Выживший</text>
<text x="595.9" y="424.1" font-size="7.8" font-weight="bold" fill="#7b3a8c" stroke="#7b3a8c" stroke-width="0.3" font-family="Liberation Sans" text-anchor="start" textLength="48" lengthAdjust="spacingAndGlyphs">Выживший</text>
<text transform="translate(41.0,578) rotate(-90)" font-size="7.6" font-weight="bold" fill="#000" stroke="#000" stroke-width="0.3" font-family="Liberation Sans" text-anchor="end" textLength="27" lengthAdjust="spacingAndGlyphs">03.12.15</text>
<text transform="translate(53.9,578) rotate(-90)" font-size="7.6" font-weight="bold" fill="#000" stroke="#000" stroke-width="0.3" font-family="Liberation Sans" text-anchor="end" textLength="27" lengthAdjust="spacingAndGlyphs">04.12.15</text>
<text transform="translate(66.8,578) rotate(-90)" font-size="7.6" font-weight="bold" fill="#e00000" stroke="#e00000" stroke-width="0.3" font-family="Liberation Sans" text-anchor="end" textLength="27" lengthAdjust="spacingAndGlyphs">05.12.15</text>
<text transform="translate(79.7,578) rotate(-90)" font-size="7.6" font-weight="bold" fill="#e00000" stroke="#e00000" stroke-width="0.3" font-family="Liberation Sans" text-anchor="end" textLength="27" lengthAdjust="spacingAndGlyphs">06.12.15</text>
<text transform="translate(92.6,578) rotate(-90)" font-size="7.6" font-weight="bold" fill="#000" stroke="#000" stroke-width="0.3" font-family="Liberation Sans" text-anchor="end" textLength="27" lengthAdjust="spacingAndGlyphs">07.12.15</text>
<text transform="translate(105.5,578) rotate(-90)" font-size="7.6" font-weight="bold" fill="#000" stroke="#000" stroke-width="0.3" font-family="Liberation Sans" text-anchor="end" textLength="27" lengthAdjust="spacingAndGlyphs">08.12.15</text>
<text transform="translate(118.4,578) rotate(-90)" font-size="7.6" font-weight="bold" fill="#000" stroke="#000" stroke-width="0.3" font-family="Liberation Sans" text-anchor="end" textLength="27" lengthAdjust="spacingAndGlyphs">09.12.15</text>
<text transform="translate(131.3,578) rotate(-90)" font-size="7.6" font-weight="bold" fill="#000" stroke="#000" stroke-width="0.3" font-family="Liberation Sans" text-anchor="end" textLength="27" lengthAdjust="spacingAndGlyphs">10.12.15</text>
<text transform="translate(144.2,578) rotate(-90)" font-size="7.6" font-weight="bold" fill="#000" stroke="#000" stroke-width="0.3" font-family="Liberation Sans" text-anchor="end" textLength="27" lengthAdjust="spacingAndGlyphs">11.12.15</text>
<text transform="translate(157.2,578) rotate(-90)" font-size="7.6" font-weight="bold" fill="#e00000" stroke="#e00000" stroke-width="0.3" font-family="Liberation Sans" text-anchor="end" textLength="27" lengthAdjust="spacingAndGlyphs">12.12.15</text>
<text transform="translate(170.1,578) rotate(-90)" font-size="7.6" font-weight="bold" fill="#e00000" stroke="#e00000" stroke-width="0.3" font-family="Liberation Sans" text-anchor="end" textLength="27" lengthAdjust="spacingAndGlyphs">13.12.15</text>
<text transform="translate(183.0,578) rotate(-90)" font-size="7.6" font-weight="bold" fill="#000" stroke="#000" stroke-width="0.3" font-family="Liberation Sans" text-anchor="end" textLength="27" lengthAdjust="spacingAndGlyphs">14.12.15</text>
<text transform="translate(195.9,578) rotate(-90)" font-size="7.6" font-weight="bold" fill="#000" stroke="#000" stroke-width="0.3" font-family="Liberation Sans" text-anchor="end" textLength="27" lengthAdjust="spacingAndGlyphs">15.12.15</text>
<text transform="translate(208.8,578) rotate(-90)" font-size="7.6" font-weight="bold" fill="#000" stroke="#000" stroke-width="0.3" font-family="Liberation Sans" text-anchor="end" textLength="27" lengthAdjust="spacingAndGlyphs">16.12.15</text>
<text transform="translate(221.7,578) rotate(-90)" font-size="7.6" font-weight="bold" fill="#000" stroke="#000" stroke-width="0.3" font-family="Liberation Sans" text-anchor="end" textLength="27" lengthAdjust="spacingAndGlyphs">17.12.15</text>
<text transform="translate(234.6,578) rotate(-90)" font-size="7.6" font-weight="bold" fill="#000" stroke="#000" stroke-width="0.3" font-family="Liberation Sans" text-anchor="end" textLength="27" lengthAdjust="spacingAndGlyphs">18.12.15</text>
<text transform="translate(247.5,578) rotate(-90)" font-size="7.6" font-weight="bold" fill="#e00000" stroke="#e00000" stroke-width="0.3" font-family="Liberation Sans" text-anchor="end" textLength="27" lengthAdjust="spacingAndGlyphs">19.12.15</text>
<text transform="translate(260.4,578) rotate(-90)" font-size="7.6" font-weight="bold" fill="#e00000" stroke="#e00000" stroke-width="0.3" font-family="Liberation Sans" text-anchor="end" textLength="27" lengthAdjust="spacingAndGlyphs">20.12.15</text>
<text transform="translate(273.3,578) rotate(-90)" font-size="7.6" font-weight="bold" fill="#000" stroke="#000" stroke-width="0.3" font-family="Liberation Sans" text-anchor="end" textLength="27" lengthAdjust="spacingAndGlyphs">21.12.15</text>
<text transform="translate(286.2,578) rotate(-90)" font-size="7.6" font-weight="bold" fill="#000" stroke="#000" stroke-width="0.3" font-family="Liberation Sans" text-anchor="end" textLength="27" lengthAdjust="spacingAndGlyphs">22.12.15</text>
<text transform="translate(299.2,578) rotate(-90)" font-size="7.6" font-weight="bold" fill="#000" stroke="#000" stroke-width="0.3" font-family="Liberation Sans" text-anchor="end" textLength="27" lengthAdjust="spacingAndGlyphs">23.12.15</text>
<text transform="translate(312.1,578) rotate(-90)" font-size="7.6" font-weight="bold" fill="#000" stroke="#000" stroke-width="0.3" font-family="Liberation Sans" text-anchor="end" textLength="27" lengthAdjust="spacingAndGlyphs">24.12.15</text>
<text transform="translate(325.0,578) rotate(-90)" font-size="7.6" font-weight="bold" fill="#000" stroke="#000" stroke-width="0.3" font-family="Liberation Sans" text-anchor="end" textLength="27" lengthAdjust="spacingAndGlyphs">25.12.15</text>
<text transform="translate(337.9,578) rotate(-90)" font-size="7.6" font-weight="bold" fill="#e00000" stroke="#e00000" stroke-width="0.3" font-family="Liberation Sans" text-anchor="end" textLength="27" lengthAdjust="spacingAndGlyphs">26.12.15</text>
<text transform="translate(350.8,578) rotate(-90)" font-size="7.6" font-weight="bold" fill="#e00000" stroke="#e00000" stroke-width="0.3" font-family="Liberation Sans" text-anchor="end" textLength="27" lengthAdjust="spacingAndGlyphs">27.12.15</text>
<text transform="translate(363.7,578) rotate(-90)" font-size="7.6" font-weight="bold" fill="#000" stroke="#000" stroke-width="0.3" font-family="Liberation Sans" text-anchor="end" textLength="27" lengthAdjust="spacingAndGlyphs">28.12.15</text>
<text transform="translate(376.6,578) rotate(-90)" font-size="7.6" font-weight="bold" fill="#000" stroke="#000" stroke-width="0.3" font-family="Liberation Sans" text-anchor="end" textLength="27" lengthAdjust="spacingAndGlyphs">29.12.15</text>
<text transform="translate(389.5,578) rotate(-90)" font-size="7.6" font-weight="bold" fill="#000" stroke="#000" stroke-width="0.3" font-family="Liberation Sans" text-anchor="end" textLength="27" lengthAdjust="spacingAndGlyphs">30.12.15</text>
<text transform="translate(402.4,578) rotate(-90)" font-size="7.6" font-weight="bold" fill="#000" stroke="#000" stroke-width="0.3" font-family="Liberation Sans" text-anchor="end" textLength="27" lengthAdjust="spacingAndGlyphs">31.12.15</text>
<text transform="translate(415.3,578) rotate(-90)" font-size="7.6" font-weight="bold" fill="#e00000" stroke="#e00000" stroke-width="0.3" font-family="Liberation Sans" text-anchor="end" textLength="27" lengthAdjust="spacingAndGlyphs">01.01.16</text>
<text transform="translate(428.3,578) rotate(-90)" font-size="7.6" font-weight="bold" fill="#e00000" stroke="#e00000" stroke-width="0.3" font-family="Liberation Sans" text-anchor="end" textLength="27" lengthAdjust="spacingAndGlyphs">02.01.16</text>
<text transform="translate(441.2,578) rotate(-90)" font-size="7.6" font-weight="bold" fill="#e00000" stroke="#e00000" stroke-width="0.3" font-family="Liberation Sans" text-anchor="end" textLength="27" lengthAdjust="spacingAndGlyphs">03.01.16</text>
<text transform="translate(454.1,578) rotate(-90)" font-size="7.6" font-weight="bold" fill="#e00000" stroke="#e00000" stroke-width="0.3" font-family="Liberation Sans" text-anchor="end" textLength="27" lengthAdjust="spacingAndGlyphs">04.01.16</text>
<text transform="translate(467.0,578) rotate(-90)" font-size="7.6" font-weight="bold" fill="#e00000" stroke="#e00000" stroke-width="0.3" font-family="Liberation Sans" text-anchor="end" textLength="27" lengthAdjust="spacingAndGlyphs">05.01.16</text>
<text transform="translate(479.9,578) rotate(-90)" font-size="7.6" font-weight="bold" fill="#e00000" stroke="#e00000" stroke-width="0.3" font-family="Liberation Sans" text-anchor="end" textLength="27" lengthAdjust="spacingAndGlyphs">06.01.16</text>
<text transform="translate(492.8,578) rotate(-90)" font-size="7.6" font-weight="bold" fill="#e00000" stroke="#e00000" stroke-width="0.3" font-family="Liberation Sans" text-anchor="end" textLength="27" lengthAdjust="spacingAndGlyphs">07.01.16</text>
<text transform="translate(505.7,578) rotate(-90)" font-size="7.6" font-weight="bold" fill="#e00000" stroke="#e00000" stroke-width="0.3" font-family="Liberation Sans" text-anchor="end" textLength="27" lengthAdjust="spacingAndGlyphs">08.01.16</text>
<text transform="translate(518.6,578) rotate(-90)" font-size="7.6" font-weight="bold" fill="#e00000" stroke="#e00000" stroke-width="0.3" font-family="Liberation Sans" text-anchor="end" textLength="27" lengthAdjust="spacingAndGlyphs">09.01.16</text>
<text transform="translate(531.5,578) rotate(-90)" font-size="7.6" font-weight="bold" fill="#e00000" stroke="#e00000" stroke-width="0.3" font-family="Liberation Sans" text-anchor="end" textLength="27" lengthAdjust="spacingAndGlyphs">10.01.16</text>
<text transform="translate(544.4,578) rotate(-90)" font-size="7.6" font-weight="bold" fill="#000" stroke="#000" stroke-width="0.3" font-family="Liberation Sans" text-anchor="end" textLength="27" lengthAdjust="spacingAndGlyphs">11.01.16</text>
<text transform="translate(557.4,578) rotate(-90)" font-size="7.6" font-weight="bold" fill="#000" stroke="#000" stroke-width="0.3" font-family="Liberation Sans" text-anchor="end" textLength="27" lengthAdjust="spacingAndGlyphs">12.01.16</text>
<text transform="translate(570.3,578) rotate(-90)" font-size="7.6" font-weight="bold" fill="#000" stroke="#000" stroke-width="0.3" font-family="Liberation Sans" text-anchor="end" textLength="27" lengthAdjust="spacingAndGlyphs">13.01.16</text>
<text transform="translate(583.2,578) rotate(-90)" font-size="7.6" font-weight="bold" fill="#000" stroke="#000" stroke-width="0.3" font-family="Liberation Sans" text-anchor="end" textLength="27" lengthAdjust="spacingAndGlyphs">14.01.16</text>
<text transform="translate(596.1,578) rotate(-90)" font-size="7.6" font-weight="bold" fill="#000" stroke="#000" stroke-width="0.3" font-family="Liberation Sans" text-anchor="end" textLength="27" lengthAdjust="spacingAndGlyphs">15.01.16</text>
<text transform="translate(609.0,578) rotate(-90)" font-size="7.6" font-weight="bold" fill="#e00000" stroke="#e00000" stroke-width="0.3" font-family="Liberation Sans" text-anchor="end" textLength="27" lengthAdjust="spacingAndGlyphs">16.01.16</text>
<text transform="translate(621.9,578) rotate(-90)" font-size="7.6" font-weight="bold" fill="#e00000" stroke="#e00000" stroke-width="0.3" font-family="Liberation Sans" text-anchor="end" textLength="27" lengthAdjust="spacingAndGlyphs">17.01.16</text>
<text transform="translate(634.8,578) rotate(-90)" font-size="7.6" font-weight="bold" fill="#000" stroke="#000" stroke-width="0.3" font-family="Liberation Sans" text-anchor="end" textLength="27" lengthAdjust="spacingAndGlyphs">18.01.16</text>
<text transform="translate(647.7,579.2) rotate(-90)" font-size="7.6" font-weight="bold" fill="#000" stroke="#000" stroke-width="0.3" font-family="Liberation Sans" text-anchor="end" textLength="27" lengthAdjust="spacingAndGlyphs">19.01.16</text>
<text transform="translate(660.6,579.2) rotate(-90)" font-size="7.6" font-weight="bold" fill="#000" stroke="#000" stroke-width="0.3" font-family="Liberation Sans" text-anchor="end" textLength="27" lengthAdjust="spacingAndGlyphs">20.01.16</text>
</svg>
<div style="position:absolute;left:-0.5px;top:621.6px;width:682px;font-size:9px;line-height:12.5px;color:#000;white-space:pre"> Вертикальные столбцы отражают среднюю заполненность залов за неделю. Данный показатель отличается от среднего значения, поскольку число зрителей
разное.</div>
</body></html>
